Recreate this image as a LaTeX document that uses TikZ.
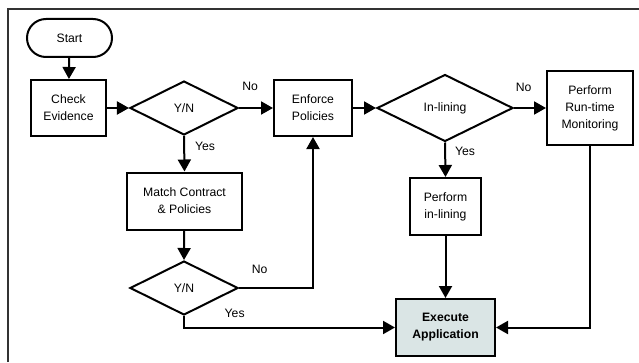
\documentclass[tikz,border=0pt]{standalone}
\usepackage{fontspec}
\setmainfont{Liberation Sans}
\usetikzlibrary{shapes.geometric,arrows.meta}
\definecolor{execfill}{HTML}{DAE5E5}
\begin{document}
\begin{tikzpicture}[x=1pt,y=1pt,
	every node/.style={font=\fontsize{12.2}{17}\selectfont, align=center},
	proc/.style={draw, line width=2pt, minimum width=#1, inner sep=0pt},
	decide/.style={draw, diamond, line width=2pt, inner sep=0pt, minimum width=108pt, minimum height=54pt},
	arr/.style={line width=2pt, -{Triangle[length=12pt,width=13pt]}},
	lbl/.style={inner sep=0pt}]
	\useasboundingbox (0,0) rectangle (639,362);
	\draw[line width=1.3pt, black!80] (8,0) -- (8,353) -- (639,353);
	% boxes
	\node[proc=85pt, minimum height=38pt, rounded corners=19pt] (start) at (69.5,324) {Start};
	\node[proc=75pt, minimum height=56pt] (check) at (68.5,254) {Check\\Evidence};
	\node[decide] (yn1) at (184,254) {Y/N};
	\node[proc=78pt, minimum height=56pt] (enforce) at (313,254) {Enforce\\Policies};
	\node[decide, minimum width=136pt, minimum height=67pt] (inl) at (445,254) {In-lining};
	\node[proc=86pt, minimum height=74pt] (rtm) at (590,254) {Perform\\Run-time\\Monitoring};
	\node[proc=115pt, minimum height=57pt] (match) at (184.5,161) {Match Contract\\\& Policies};
	\node[proc=71pt, minimum height=57pt] (pinl) at (445.5,155.5) {Perform\\in-lining};
	\node[decide] (yn2) at (184,74) {Y/N};
	\node[proc=99pt, minimum height=57pt, fill=execfill, font=\fontsize{12.2}{17}\selectfont\bfseries] (exec) at (445.5,34.5) {Execute\\Application};
	% connectors
	\draw[arr] (start) -- (check);
	\draw[arr] (check) -- (yn1);
	\draw[arr] (yn1.east) -- node[lbl, pos=0.33, above=16pt] {No} (enforce.west);
	\draw[arr] (yn1.south) -- node[lbl, pos=0.3, right=10pt] {Yes} (match.north);
	\draw[arr] (match) -- (yn2.north);
	\draw[arr] (yn2.east) -| node[lbl, pos=0.14, above=13pt] {No} (enforce.south);
	\draw[arr] (yn2.south) |- node[lbl, pos=0.62, above=9pt] {Yes} (exec.west);
	\draw[arr] (enforce) -- (inl.west);
	\draw[arr] (inl.east) -- node[lbl, pos=0.3, above=15pt] {No} (rtm.west);
	\draw[arr] (inl.south) -- node[lbl, pos=0.27, right=9pt] {Yes} (pinl.north);
	\draw[arr] (pinl) -- (exec);
	\draw[arr] (rtm.south) |- (exec.east);
\end{tikzpicture}
\end{document}
